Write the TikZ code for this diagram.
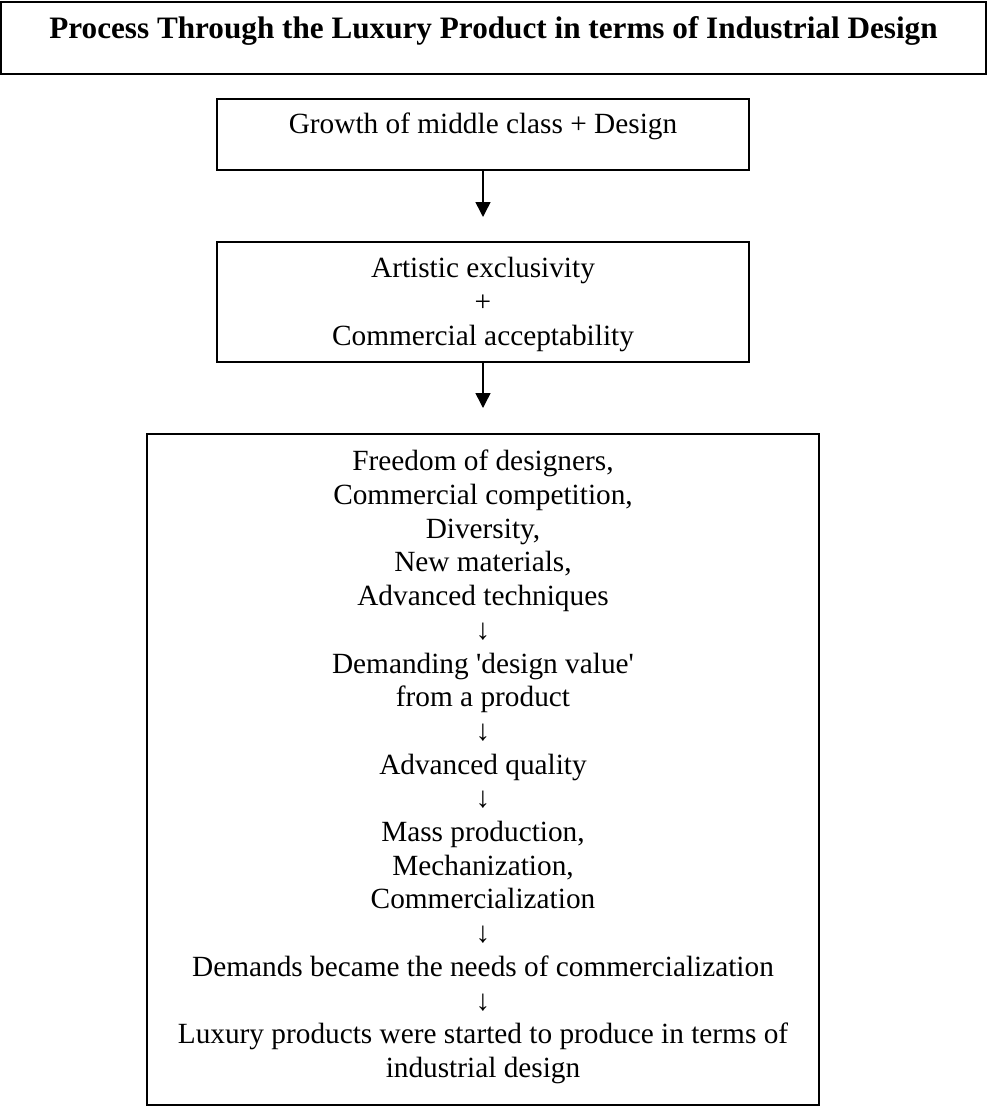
\documentclass[tikz,border=0pt]{standalone}
\usepackage{fontspec}
\setmainfont{Liberation Serif}
\usetikzlibrary{arrows.meta}
\begin{document}
\begin{tikzpicture}[x=1pt,y=-1pt,
  box/.style={draw, line width=1.6pt, inner sep=0pt, anchor=north},
  conn/.style={line width=1.5pt, -{Triangle[length=15pt,width=15pt]}},
  bodyfont/.style={font=\fontsize{29.3}{33.7}\selectfont},
  titlefont/.style={font=\fontsize{31.2}{36}\selectfont\bfseries}
]
\useasboundingbox (0,0) rectangle (987,1106);

\node[box, titlefont, minimum width=985pt, text height=37pt, text depth=35pt] (title) at (493.5,1)
  {Process Through the Luxury Product in terms of Industrial Design};

\node[box, bodyfont, minimum width=532pt, text height=35pt, text depth=36pt] (growth) at (483,98)
  {Growth of middle class + Design};

\node[box, bodyfont, minimum width=532pt, text height=36pt, text depth=84pt] (artistic) at (483,241)
  {\parbox[t]{520pt}{\centering Artistic exclusivity\\+\\Commercial acceptability}};

\node[box, bodyfont, minimum width=672pt, text height=37pt, text depth=634pt] (process) at (483,433)
  {\parbox[t]{660pt}{\centering
   Freedom of designers,\\
   Commercial competition,\\
   Diversity,\\
   New materials,\\
   Advanced techniques\\
   ↓\\
   Demanding \textquotesingle design value\textquotesingle\\
   from a product\\
   ↓\\
   Advanced quality\\
   ↓\\
   Mass production,\\
   Mechanization,\\
   Commercialization\\
   ↓\\
   Demands became the needs of commercialization\\
   ↓\\
   Luxury products were started to produce in terms of\\
   industrial design}};

\draw[conn, shorten >=24pt] (growth.south) -- (artistic.north);
\draw[conn, shorten >=25pt] (artistic.south) -- (process.north);
\end{tikzpicture}
\end{document}
